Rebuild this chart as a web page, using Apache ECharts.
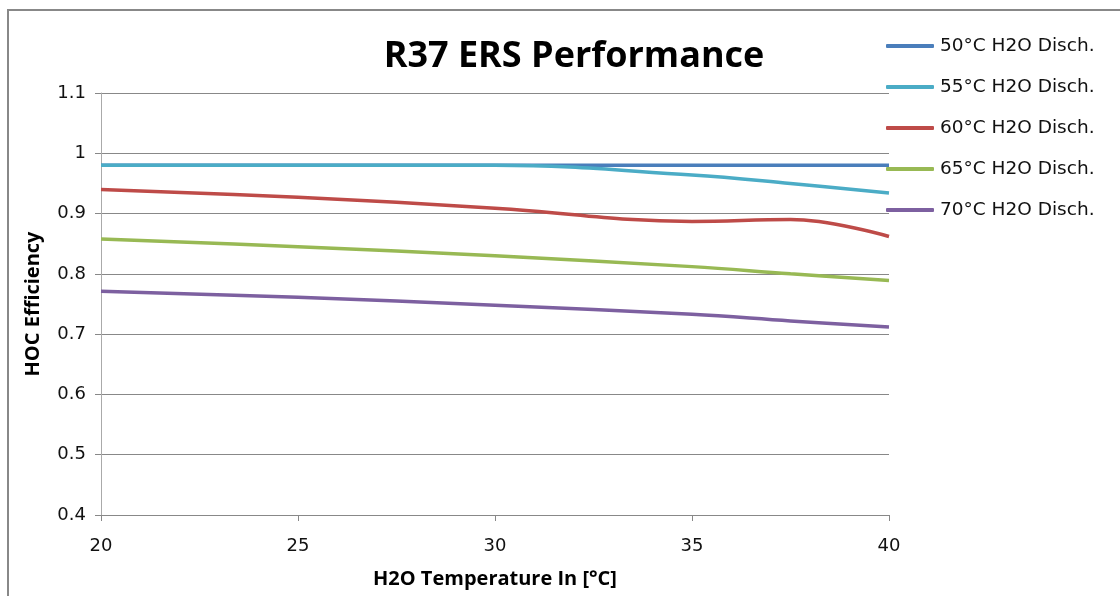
<!DOCTYPE html>
<html>
<head>
<meta charset="utf-8">
<title>R37 ERS Performance</title>
<script src="https://cdn.jsdelivr.net/npm/echarts@6/dist/echarts.min.js"></script>
<style>
  html, body { margin: 0; padding: 0; background: #fff; }
  #chart { width: 1120px; height: 596px; }
</style>
</head>
<body>
<div id="chart"></div>
<script>
// inlet water temperature (x) and HOC efficiency per discharge temperature
const tempIn = [20, 25, 30, 35, 37.5, 40];
const eff50 = [0.980, 0.980, 0.980, 0.980, 0.980, 0.980];
const eff55 = [0.980, 0.980, 0.980, 0.964, 0.950, 0.934];
const eff60 = [0.940, 0.927, 0.909, 0.887, 0.890, 0.862];
const eff65 = [0.858, 0.845, 0.830, 0.812, 0.800, 0.789];
const eff70 = [0.771, 0.761, 0.748, 0.733, 0.722, 0.712];
const seriesNames = ['50°C H2O Disch.', '55°C H2O Disch.', '60°C H2O Disch.', '65°C H2O Disch.', '70°C H2O Disch.'];
const seriesColors = ['#4A7EBB', '#4BACC6', '#BE4B48', '#98B954', '#7D60A0'];
const yTicks = [0.4, 0.5, 0.6, 0.7, 0.8, 0.9, 1, 1.1];

const allSeries = [eff50, eff55, eff60, eff65, eff70];
const font = 'Open Sans, Liberation Sans, sans-serif';
const labelFont = 'DejaVu Sans, sans-serif';

const chart = echarts.init(document.getElementById('chart'));

const option = {
  animation: false,
  title: {
    text: 'R37 ERS Performance',
    left: 569,
    top: 34,
    textAlign: 'center',
    textStyle: { fontFamily: font, fontSize: 36, fontWeight: 'bold', color: '#000' }
  },
  legend: {
    orient: 'vertical',
    left: 886,
    top: 36,
    padding: 0,
    itemWidth: 48,
    itemHeight: 4,
    itemGap: 21,
    icon: 'roundRect',
    textStyle: { fontFamily: labelFont, fontSize: 18.5, color: '#111', lineHeight: 20, padding: [0, 0, 0, 1] },
    data: seriesNames
  },
  grid: { left: 101, right: 231, top: 93, bottom: 81 },
  xAxis: {
    type: 'value',
    min: 20,
    max: 40,
    interval: 5,
    name: 'H2O Temperature In [°C]',
    nameLocation: 'middle',
    nameGap: 54,
    nameTextStyle: { fontFamily: font, fontSize: 20, fontWeight: 'bold', color: '#000' },
    axisLine: { lineStyle: { color: '#888', width: 1 } },
    axisTick: { show: true, length: 6, inside: false, lineStyle: { color: '#888' } },
    axisLabel: { fontFamily: labelFont, fontSize: 18, color: '#111', margin: 22 },
    splitLine: { show: false }
  },
  yAxis: {
    type: 'value',
    min: yTicks[0],
    max: yTicks[yTicks.length - 1],
    interval: 0.1,
    name: 'HOC Efficiency',
    nameLocation: 'middle',
    nameGap: 58,
    nameTextStyle: { fontFamily: font, fontSize: 20, fontWeight: 'bold', color: '#000' },
    axisLine: { show: true, lineStyle: { color: '#aaa', width: 1 } },
    axisTick: { show: true, length: 6, lineStyle: { color: '#888' } },
    axisLabel: {
      fontFamily: labelFont, fontSize: 18, color: '#111', margin: 15,
      formatter: v => String(Math.round(v * 10) / 10)
    },
    splitLine: { lineStyle: { color: '#888', width: 1 } }
  },
  graphic: [
    {
      type: 'rect',
      shape: { x: 8, y: 10, width: 1200, height: 700 },
      style: { fill: 'none', stroke: '#888', lineWidth: 2 },
      silent: true
    }
  ],
  series: allSeries.map((vals, i) => ({
    name: seriesNames[i],
    type: 'line',
    smooth: 0.4,
    showSymbol: false,
    symbol: 'none',
    color: seriesColors[i],
    lineStyle: { width: 3.5, color: seriesColors[i] },
    data: tempIn.map((t, k) => [t, vals[k]])
  }))
};

chart.setOption(option);
</script>
</body>
</html>
